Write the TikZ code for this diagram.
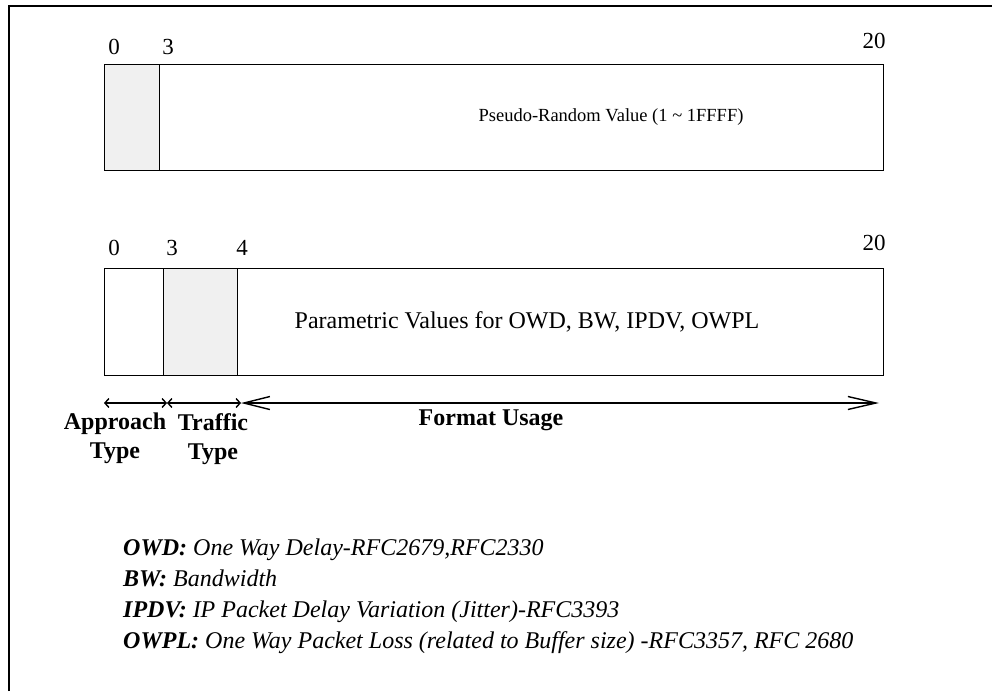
\documentclass[tikz,border=0pt]{standalone}
\usepackage{fontspec}
\setmainfont{Liberation Serif}
\usetikzlibrary{arrows.meta}
\definecolor{shade}{HTML}{F0F0F0}
\tikzset{
  field/.style={draw, line width=1.2pt, anchor=north west, inner sep=0pt},
  shaded/.style={field, fill=shade},
  num/.style={font=\fontsize{23}{26}\selectfont, inner sep=0pt, anchor=base},
  boxtext/.style={font=\fontsize{24}{28}\selectfont, inner sep=0pt},
  lbl/.style={font=\bfseries\fontsize{24}{29}\selectfont, inner sep=0pt, align=center, anchor=north},
  legend/.style={font=\itshape\fontsize{24}{29}\selectfont, inner sep=0pt, anchor=base west},
  dim/.style={line width=1.4pt}
}
\begin{document}
\begin{tikzpicture}[x=1pt,y=-1pt]
\useasboundingbox (0,0) rectangle (992,691);
\draw[line width=1.5pt] (9,691) -- (9,6) -- (992,6);
% box 1
\node[field, minimum width=779pt, minimum height=106pt] (b1) at (104,64) {};
\node[shaded, minimum width=55pt, minimum height=106pt] (b1s) at (104,64) {};
\node[boxtext, font=\fontsize{18.5}{22}\selectfont] (t1) at (611,117) {Pseudo-Random Value (1 \textasciitilde\ 1FFFF)};
\node[num] (n10) at (114,54) {0};
\node[num] (n13) at (168,54) {3};
\node[num] (n120) at (874,48) {20};
% box 2
\node[field, minimum width=779pt, minimum height=107pt] (b2) at (104,268) {};
\node[field, minimum width=59pt, minimum height=107pt] (b2a) at (104,268) {};
\node[shaded, minimum width=74pt, minimum height=107pt] (b2s) at (163,268) {};
\node[boxtext] (t2) at (527,322) {Parametric Values for OWD, BW, IPDV, OWPL};
\node[num] (n20) at (114,255) {0};
\node[num] (n23) at (172,255) {3};
\node[num] (n24) at (242,255) {4};
\node[num] (n220) at (874,250) {20};
% dimension arrows
\coordinate (d0) at (104,403);
\coordinate (d1) at (167,403);
\coordinate (d2) at (241,403);
\coordinate (d3) at (879,403);
\draw[dim, {Straight Barb[length=4pt,width=9pt]}-{Straight Barb[length=4pt,width=9pt]}] (d0) -- (d1);
\draw[dim, {Straight Barb[length=4pt,width=9pt]}-{Straight Barb[length=4pt,width=9pt]}] (d1) -- (d2);
\draw[dim, {Straight Barb[length=26pt,width=13pt]}-{Straight Barb[length=28pt,width=13pt]}] (d2) -- (d3);
\node[lbl] (la) at (115,413) {Approach\\Type};
\node[lbl] (lt) at (213,413) {Traffic\\Type};
\node[lbl] (lf) at (491,410) {Format Usage};
% legend
\node[legend] (g1) at (123,555) {\textbf{OWD:} One Way Delay-RFC2679,RFC2330};
\node[legend] (g2) at (123,586) {\textbf{BW:} Bandwidth};
\node[legend] (g3) at (123,617) {\textbf{IPDV:} IP Packet Delay Variation (Jitter)-RFC3393};
\node[legend] (g4) at (123,648) {\textbf{OWPL:} One Way Packet Loss (related to Buffer size) -RFC3357, RFC 2680};
\end{tikzpicture}
\end{document}
